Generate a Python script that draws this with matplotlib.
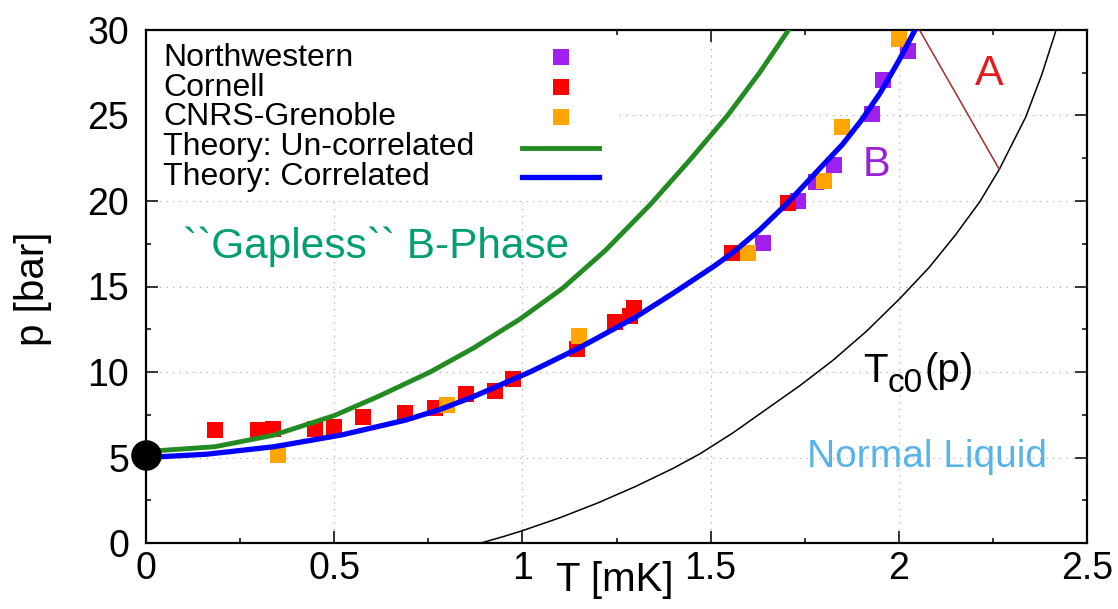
import matplotlib
matplotlib.use('Agg')
import matplotlib.pyplot as plt
from matplotlib.patches import Rectangle
from matplotlib.ticker import MultipleLocator

plt.rcParams['font.family'] = ['Liberation Sans', 'DejaVu Sans']

# Measured transition points (T in mK, p in bar)
nw_T = [1.640, 1.733, 1.779, 1.828, 1.929, 1.958, 2.024]
nw_p = [17.56, 20.0, 21.1, 22.1, 25.1, 27.1, 28.8]

cornell_T = [0.183, 0.298, 0.337, 0.449, 0.500, 0.576, 0.689, 0.768, 0.849,
             0.927, 0.976, 1.144, 1.246, 1.286, 1.296, 1.557, 1.705]
cornell_p = [6.61, 6.60, 6.69, 6.65, 6.80, 7.35, 7.58, 7.87, 8.71,
             8.89, 9.57, 11.35, 12.94, 13.27, 13.72, 16.98, 19.9]

cnrs_T = [0.350, 0.799, 1.150, 1.599, 1.800, 1.850, 2.000]
cnrs_p = [5.15, 8.07, 12.1, 16.98, 21.15, 24.3, 29.5]

# Theory curves
uncorr_T = [0.0, 0.183, 0.338, 0.50, 0.62, 0.755, 0.87, 0.994, 1.107, 1.22,
            1.34, 1.445, 1.545, 1.63, 1.707]
uncorr_p = [5.35, 5.63, 6.3, 7.45, 8.6, 10.0, 11.4, 13.1, 14.9, 17.1,
            19.8, 22.4, 25.0, 27.5, 30.0]

corr_T = [0.0, 0.16, 0.34, 0.52, 0.69, 0.78, 0.87, 1.02, 1.15, 1.30, 1.40, 1.51,
          1.56, 1.63, 1.705, 1.79, 1.85, 1.90, 1.95, 2.00, 2.043]
corr_p = [5.0, 5.19, 5.63, 6.32, 7.19, 7.8, 8.56, 10.0, 11.4, 13.2, 14.6, 16.2,
          17.0, 18.3, 19.9, 21.9, 23.3, 24.7, 26.3, 28.2, 30.0]

# Bulk superfluid transition Tc0(p)
tc0_T = [0.89, 0.95, 1.0, 1.1, 1.2, 1.3, 1.4, 1.472, 1.56, 1.65, 1.737, 1.826,
         1.915, 2.003, 2.08, 2.15, 2.215, 2.267, 2.337, 2.38, 2.418]
tc0_p = [0.0, 0.38, 0.72, 1.48, 2.34, 3.30, 4.36, 5.22, 6.45, 7.85, 9.2, 10.7,
         12.4, 14.3, 16.1, 18.0, 19.95, 21.85, 24.9, 27.4, 30.0]

# A-B boundary segment and the T=0 endpoint
ab_T = [2.055, 2.267]
ab_p = [30.0, 21.85]
endpoint_T, endpoint_p = 0.0, 5.15

fig = plt.figure(figsize=(11.18, 6.09), dpi=100)
ax = fig.add_axes([146/1118, 66/609, 941/1118, 513/609])

ax.set_xlim(0, 2.5)
ax.set_ylim(0, 30)
ax.xaxis.set_major_locator(MultipleLocator(0.5))
ax.xaxis.set_minor_locator(MultipleLocator(0.25))
ax.yaxis.set_major_locator(MultipleLocator(5))
ax.yaxis.set_minor_locator(MultipleLocator(2.5))
ax.tick_params(which='both', direction='in', top=True, right=True, width=1.1)
ax.tick_params(which='major', length=8.5, labelsize=27)
ax.tick_params(which='minor', length=3.6)
ax.tick_params(axis='x', pad=6)
ax.tick_params(axis='y', pad=12)
ax.xaxis.set_major_formatter(plt.FuncFormatter(lambda v, _: f'{v:g}'))
for s in ax.spines.values():
    s.set_linewidth(1.6)

ax.set_axisbelow(True)
ax.grid(True, which='major', color='#a0a0a0', linewidth=0.8, linestyle=(0, (1, 5)))

# pixel -> axes fraction helpers for the key
def ax_x(px):
    return (px - 146) / 941

def ax_y(py):
    return (543 - py) / 513

# white backing behind the key
ax.add_patch(Rectangle((0, ax_y(199)), ax_x(615), 1 - ax_y(199),
                       transform=ax.transAxes, facecolor='white', edgecolor='none', zorder=1))

ms = 11.5
series = [
    ('Northwestern', nw_T, nw_p, '#a020f0', 's'),
    ('Cornell', cornell_T, cornell_p, '#ff0000', 's'),
    ('CNRS-Grenoble', cnrs_T, cnrs_p, '#ffa500', 's'),
    ('Theory: Un-correlated', uncorr_T, uncorr_p, '#228b22', '-'),
    ('Theory: Correlated', corr_T, corr_p, '#0000ff', '-'),
]
key_base = [66, 95.5, 125, 155, 185]
key_mark = [56.7, 86.7, 116.7, 148, 177]

for (label, xs, ys, color, style), yb, ym in zip(series, key_base, key_mark):
    if style == 's':
        ax.plot(xs, ys, 's', color=color, ms=ms, mew=0, zorder=3)
        ax.plot([ax_x(561)], [ax_y(ym)], 's', color=color, ms=ms, mew=0,
                transform=ax.transAxes, zorder=3)
    else:
        lw = 3.5 if color == '#228b22' else 3.8
        ax.plot(xs, ys, '-', color=color, lw=lw, zorder=4)
        ax.plot([ax_x(522), ax_x(599)], [ax_y(ym), ax_y(ym)], '-', color=color, lw=lw,
                transform=ax.transAxes, zorder=4)
    ax.text(ax_x(163), ax_y(yb), label, transform=ax.transAxes, fontsize=23,
            va='baseline', ha='left', zorder=5)

ax.plot(tc0_T, tc0_p, '-', color='black', lw=1.1, zorder=4)
ax.plot(ab_T, ab_p, '-', color='#a52a2a', lw=1.1, zorder=4)
ax.plot([endpoint_T], [endpoint_p], 'o', color='black', ms=21, clip_on=False, zorder=6)

ax.text(2.202, 26.8, 'A', color='#e41a1c', fontsize=31, va='baseline', ha='left')
ax.text(1.905, 21.46, 'B', color='#9a1fd8', fontsize=30, va='baseline', ha='left')
ax.text(0.098, 17.3, '``Gapless`` B-Phase', color='#009e73', fontsize=30.5,
        va='center', ha='left')

# T_c0(p) built from three pieces so the subscript keeps its size
ax.text(1.905, 9.44, 'T', fontsize=29, va='baseline', ha='left')
ax.annotate('c0', xy=(1.905, 9.44), xytext=(17.5, -7.2), textcoords='offset points',
            fontsize=24, va='baseline', ha='left')
ax.annotate('(p)', xy=(1.905, 9.44), xytext=(44.5, 0), textcoords='offset points',
            fontsize=29, va='baseline', ha='left')

ax.text(1.755, 4.46, 'Normal Liquid', color='#56b4e9', fontsize=28, va='baseline', ha='left')

ax.set_xlabel('T [mK]', fontsize=29)
ax.set_ylabel('p [bar]', fontsize=29)
ax.xaxis.set_label_coords(ax_x(615), -0.035)
ax.yaxis.set_label_coords(ax_x(52), 0.495)

fig.savefig('out.png', dpi=100, facecolor='white')
